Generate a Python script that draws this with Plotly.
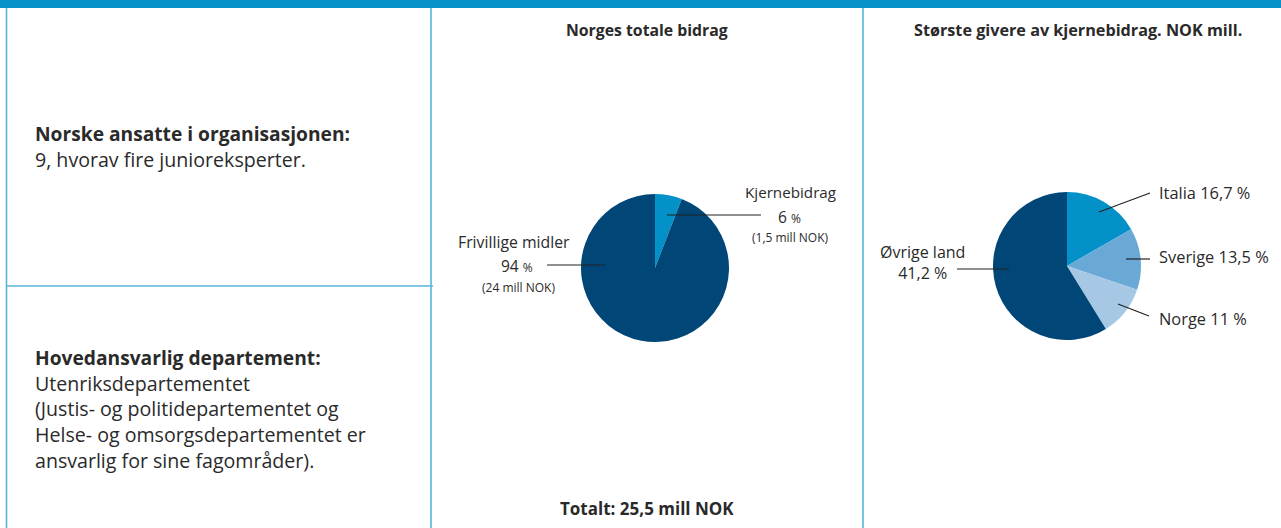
import plotly.graph_objects as go

W, H = 1281, 528

# ---- data ----
total_labels = ["Kjernebidrag", "Frivillige midler"]
total_values = [1.5, 24]          # mill NOK
total_colors = ["#0391c8", "#004677"]

donor_labels = ["Italia", "Sverige", "Norge", "Øvrige land"]
donor_values = [16.7, 13.5, 11, 58.8]   # slice sizes as drawn
donor_texts = ["Italia 16,7 %", "Sverige 13,5 %", "Norge 11 %", "Øvrige land<br>41,2 %"]
donor_colors = ["#0391c8", "#6aa9d6", "#a6c8e4", "#004677"]

FONT = "Open Sans"
TXT = "#2a2a2a"
BORDER = "#58b3de"


def px(x):
    return x / W


def py(y):
    return 1 - y / H


def dom(cx, cy, r):
    return dict(x=[px(cx - r), px(cx + r)], y=[py(cy + r), py(cy - r)])


fig = go.Figure()
fig.add_trace(go.Pie(labels=total_labels, values=total_values, sort=False,
                     direction="clockwise", rotation=0, textinfo="none",
                     marker=dict(colors=total_colors, line=dict(width=0)),
                     domain=dom(655, 268, 74), showlegend=False, hoverinfo="label+value"))
fig.add_trace(go.Pie(labels=donor_labels, values=donor_values, sort=False,
                     direction="clockwise", rotation=0, textinfo="none",
                     marker=dict(colors=donor_colors, line=dict(width=0)),
                     domain=dom(1067, 266, 74), showlegend=False, hoverinfo="label"))

shapes = []
# top bar
shapes.append(dict(type="rect", xref="paper", yref="paper", x0=0, x1=1, y0=py(8), y1=1,
                   fillcolor="#0691c9", line=dict(width=0), layer="above"))
# panel borders
for x in [6.5, 431, 863]:
    shapes.append(dict(type="line", xref="paper", yref="paper", x0=px(x), x1=px(x), y0=0, y1=py(8),
                       line=dict(color=BORDER, width=1.6)))
shapes.append(dict(type="line", xref="paper", yref="paper", x0=px(6), x1=px(433), y0=py(286), y1=py(286),
                   line=dict(color=BORDER, width=1.6)))
# leader lines
leaders = [((667, 215), (761, 215)), ((547, 265), (605, 265)),
           ((1099, 212), (1150, 193)), ((1126, 259), (1150, 259)),
           ((1118, 304), (1149, 316)), ((957, 269), (1009, 269))]
for (x0, y0), (x1, y1) in leaders:
    shapes.append(dict(type="line", xref="paper", yref="paper", x0=px(x0), x1=px(x1), y0=py(y0), y1=py(y1),
                       line=dict(color="#222222", width=1.2), layer="above"))

ann = []


def add(text, x, y, size, xanchor="left", bold=False):
    ann.append(dict(text=f"<b>{text}</b>" if bold else text, x=px(x), y=py(y), xref="paper", yref="paper",
                    xanchor=xanchor, yanchor="middle", showarrow=False,
                    font=dict(family=FONT, size=size, color=TXT), align=xanchor if xanchor != "center" else "center"))


add("Norske ansatte i organisasjonen:", 33, 133, 19.2, bold=True)
add("9, hvorav fire junioreksperter.", 33, 159, 19.6)
add("Hovedansvarlig departement:", 33, 357, 19.2, bold=True)
for i, line in enumerate(["Utenriksdepartementet", "(Justis- og politidepartementet og",
                          "Helse- og omsorgsdepartementet er", "ansvarlig for sine fagområder)."]):
    add(line, 33, 383 + i * 25.7, 19.6)

add("Norges totale bidrag", 647, 30, 15.8, "center", bold=True)
add("Totalt: 25,5 mill NOK", 647, 508, 17, "center", bold=True)
add("Kjernebidrag", 790, 192, 15.2, "center")
add("6 <span style='font-size:12px'>%</span>", 789, 217, 15.5, "center")
add("(1,5 mill NOK)", 790, 237, 12, "center")
add("Frivillige midler", 514, 242, 15.8, "center")
add("94 <span style='font-size:12px'>%</span>", 517, 266, 15.5, "center")
add("(24 mill NOK)", 518, 287, 12, "center")

add("Største givere av kjernebidrag. NOK mill.", 1078, 30, 16.2, "center", bold=True)
add(donor_texts[0], 1157, 192, 16.4)
add(donor_texts[1], 1157, 256, 16.4)
add(donor_texts[2], 1157, 318, 16.4)
add(donor_texts[3], 922, 262, 16, "center")

fig.update_layout(width=W, height=H, margin=dict(l=0, r=0, t=0, b=0),
                  paper_bgcolor="white", plot_bgcolor="white",
                  shapes=shapes, annotations=ann)
fig.write_html("out.html", config={"displayModeBar": False},
               post_script="document.body.style.margin='0';document.body.style.overflow='hidden';")
